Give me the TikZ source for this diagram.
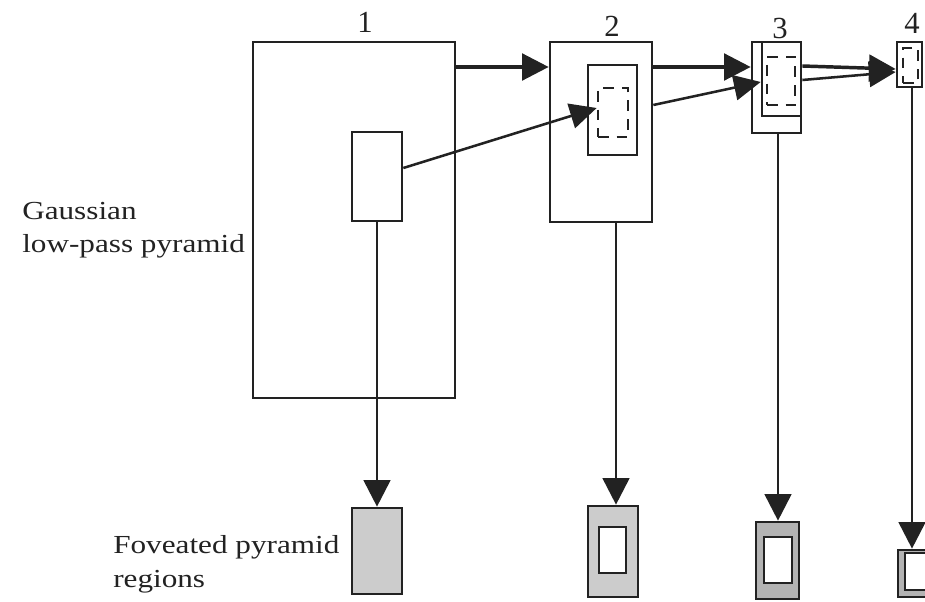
\documentclass[tikz,border=0pt]{standalone}
\usepackage{fontspec}
\setmainfont{Liberation Serif}
\usetikzlibrary{arrows.meta,fit,calc}
\definecolor{fovA}{HTML}{CCCCCC}
\definecolor{fovB}{HTML}{B3B3B3}
\definecolor{ink}{HTML}{222222}
\begin{document}
\begin{tikzpicture}[x=0.75pt,y=-0.75pt,
 box/.style={draw=ink, line width=2pt, inner sep=0pt},
 dbox/.style={draw=ink, line width=2pt, dash pattern=on 8pt off 6pt, inner sep=0pt},
 fov/.style={draw=ink, line width=2pt, inner sep=0pt, fill=fovA},
 hole/.style={draw=ink, line width=2pt, inner sep=0pt, fill=white},
 arr/.style={draw=ink, line width=2.6pt, -{Triangle[length=20pt,width=20pt]}},
 thin arr/.style={draw=ink, line width=1.9pt, -{Triangle[length=20pt,width=19pt]}},
 varr/.style={draw=ink, line width=2.2pt, -{Triangle[length=20pt,width=20pt]}},
 lbl/.style={inner sep=0pt, text=ink, font=\fontsize{19.5}{24}\selectfont},
 num/.style={inner sep=0pt, text=ink, font=\fontsize{23}{26}\selectfont}]
\clip (0,0) rectangle (925,602);
\fill[white] (0,0) rectangle (925,602);

% level 1
\node[box, fit={(253,42)(455,398)}] (b1) {};
\node[box, fit={(352,132)(402,221)}] (i1) {};
% level 2
\node[box, fit={(550,42)(652,222)}] (b2) {};
\node[box, fit={(588,65)(637,155)}] (i2) {};
\node[dbox, fit={(598,88)(628,137)}] (d2) {};
% level 3
\node[box, fit={(752,42)(801,133)}] (b3) {};
\node[box, fit={(762,42)(801,116)}] (i3) {};
\node[dbox, fit={(767,57)(795,105)}] (d3) {};
% level 4
\node[box, fit={(897,42)(922,87)}] (b4) {};
\node[dbox, fit={(903,48)(918,83)}] (d4) {};

% foveated regions
\node[fov, fit={(352,508)(402,594)}] (f1) {};
\node[fov, fit={(588,506)(638,597)}] (f2) {};
\node[hole, fit={(599,527)(626,573)}] (h2) {};
\node[fov, fill=fovB, fit={(756,522)(799,599)}] (f3) {};
\node[hole, fit={(764,537)(792,583)}] (h3) {};
\node[fov, fill=fovB, fit={(898,550)(932,597)}] (f4) {};
\node[hole, fit={(905,553)(932,590)}] (h4) {};

% labels
\node[num] (n1) at (365,22.5) {1};
\node[num] (n2) at (612,26) {2};
\node[num] (n3) at (780,29) {3};
\node[num] (n4) at (912,23) {4};
\node[lbl, anchor=base west] (g1) at (22,220) {\scalebox{1.2}[1]{Gaussian}};
\node[lbl, anchor=base west] (g2) at (22,253) {\scalebox{1.2}[1]{low-pass pyramid}};
\node[lbl, anchor=base west] (r1) at (113,553) {\scalebox{1.2}[1]{Foveated pyramid}};
\node[lbl, anchor=base west] (r2) at (113,587) {\scalebox{1.2}[1]{regions}};

% helper coordinates
\coordinate (yA) at (0,67);
\coordinate (y167) at (0,168);
\coordinate (y108) at (0,108);
\coordinate (y105) at (0,105);
\coordinate (y82) at (0,82);
\coordinate (y66) at (0,66);
\coordinate (y69) at (0,69);
\coordinate (y80) at (0,80);
\coordinate (y72) at (0,72);
\coordinate (x616) at (616,0);
\coordinate (x778) at (778,0);
\coordinate (x912) at (912,0);

% horizontal connectors
\draw[arr] (b1.east |- yA) -- (b2.west |- yA);
\draw[thin arr] (i1.east |- y167) -- (d2.west |- y108);
\draw[arr] (b2.east |- yA) -- (b3.west |- yA);
\draw[thin arr] (b2.east |- y105) -- (i3.west |- y82);
\draw[arr] (b3.east |- y66) -- (b4.west |- y69);
\draw[thin arr] (b3.east |- y80) -- (b4.west |- y72);

% vertical connectors
\draw[varr] (i1.south) -- (f1.north);
\draw[varr] (b2.south -| x616) -- (f2.north -| x616);
\draw[varr] (b3.south -| x778) -- (f3.north -| x778);
\draw[varr] (b4.south -| x912) -- (f4.north -| x912);
\end{tikzpicture}
\end{document}
